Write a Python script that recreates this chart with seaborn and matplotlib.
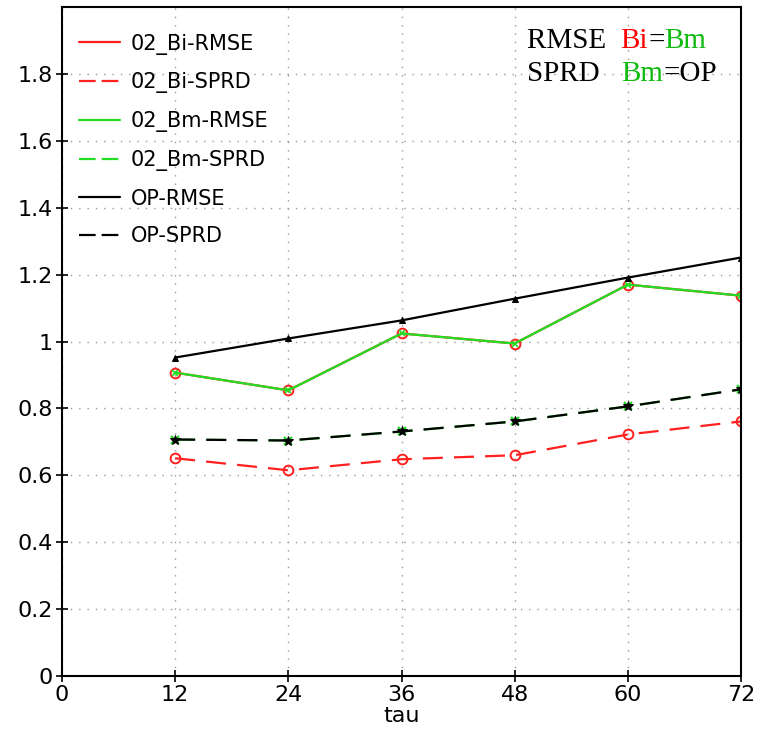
import matplotlib
matplotlib.use("Agg")
import matplotlib.pyplot as plt
from matplotlib.lines import Line2D
from matplotlib.ticker import FuncFormatter
import seaborn as sns
import pandas as pd

tau = [12, 24, 36, 48, 60, 72]
bi_rmse = [0.907, 0.854, 1.024, 0.994, 1.170, 1.137]
bi_sprd = [0.651, 0.615, 0.648, 0.660, 0.722, 0.761]
bm_rmse = [0.907, 0.854, 1.024, 0.994, 1.170, 1.137]
bm_sprd = [0.707, 0.704, 0.731, 0.761, 0.806, 0.857]
op_rmse = [0.952, 1.009, 1.063, 1.128, 1.191, 1.251]
op_sprd = [0.707, 0.704, 0.731, 0.761, 0.806, 0.857]
labels = ["02_Bi-RMSE", "02_Bi-SPRD", "02_Bm-RMSE", "02_Bm-SPRD", "OP-RMSE", "OP-SPRD"]
xticks = [0, 12, 24, 36, 48, 60, 72]
yticks = [0, 0.2, 0.4, 0.6, 0.8, 1.0, 1.2, 1.4, 1.6, 1.8]

sns.set_theme(style="white")
plt.rcParams["font.family"] = ["DejaVu Sans"]
plt.rcParams["text.color"] = "black"
plt.rcParams["axes.labelcolor"] = "black"

fig = plt.figure(figsize=(7.58, 7.36), dpi=100)
ax = fig.add_axes([62/758, 60/736, (741-62)/758, (676-7)/736])

RED = "#ff2020"
GREEN = "#22dd22"
dash = (0, (9, 5))

series = [
    (bi_rmse, RED, "-", dict(marker="o", ms=7, mfc="none", mec=RED, mew=1.4)),
    (bi_sprd, RED, dash, dict(marker="o", ms=7, mfc="none", mec=RED, mew=1.4)),
    (bm_rmse, GREEN, "-", dict(marker="x", ms=4, mec=GREEN, mew=1.2)),
    (bm_sprd, GREEN, dash, dict(marker="x", ms=6, mec=GREEN, mew=1.6)),
    (op_rmse, "black", "-", dict(marker="^", ms=4, mfc="black", mec="black")),
    (op_sprd, "black", dash, dict(marker="*", ms=7, mfc="black", mec="black")),
]
for vals, col, ls, mk in series:
    df = pd.DataFrame({"tau": tau, "val": vals})
    sns.lineplot(data=df, x="tau", y="val", ax=ax, color=col, linestyle=ls,
                 linewidth=1.6, **mk)

ax.set_xlim(0, 72)
ax.set_ylim(0, 2.0)
ax.set_xticks(xticks)
ax.set_yticks(yticks)
ax.yaxis.set_major_formatter(FuncFormatter(lambda v, p: "%g" % v))
ax.grid(True, linestyle=(0, (1, 5)), color="#999999", linewidth=1.0)
for s in ax.spines.values():
    s.set_color("black")
    s.set_linewidth(1.5)
    s.set_visible(True)
ax.tick_params(axis="both", direction="inout", length=9, width=1.2,
               labelsize=16, colors="black", left=True, bottom=True, pad=2)
ax.set_xlabel("tau", fontsize=16, labelpad=1)
ax.set_ylabel("")

leg_dash = (0, (7.5, 2.7))
handles = [Line2D([], [], color=c, linestyle=("-" if ls == "-" else leg_dash), linewidth=1.6)
           for _, c, ls, _ in series]
leg = ax.legend(handles, labels, loc="upper left", bbox_to_anchor=(0.0, 0.985), frameon=False,
                fontsize=15, handlelength=2.0, handletextpad=0.5, labelspacing=0.85,
                borderaxespad=0.4)
for t in leg.get_texts():
    t.set_color("black")

serif = dict(fontsize=21, family=["Liberation Serif", "DejaVu Serif"])
t1 = fig.text(527/758, 1 - 48/736, "RMSE  ", color="black", **serif)
t2 = ax.annotate("Bi", xy=(1, 0), xycoords=t1, va="bottom", ha="left", color="red", **serif)
t3 = ax.annotate("=", xy=(1, 0), xycoords=t2, va="bottom", ha="left", color="black", **serif)
t4 = ax.annotate("Bm", xy=(1, 0), xycoords=t3, va="bottom", ha="left", color="#11bb11", **serif)
s1 = fig.text(527/758, 1 - 81/736, "SPRD   ", color="black", **serif)
s2 = ax.annotate("Bm", xy=(1, 0), xycoords=s1, va="bottom", ha="left", color="#11bb11", **serif)
s3 = ax.annotate("=OP", xy=(1, 0), xycoords=s2, va="bottom", ha="left", color="black", **serif)

fig.savefig("out.png", dpi=100)
